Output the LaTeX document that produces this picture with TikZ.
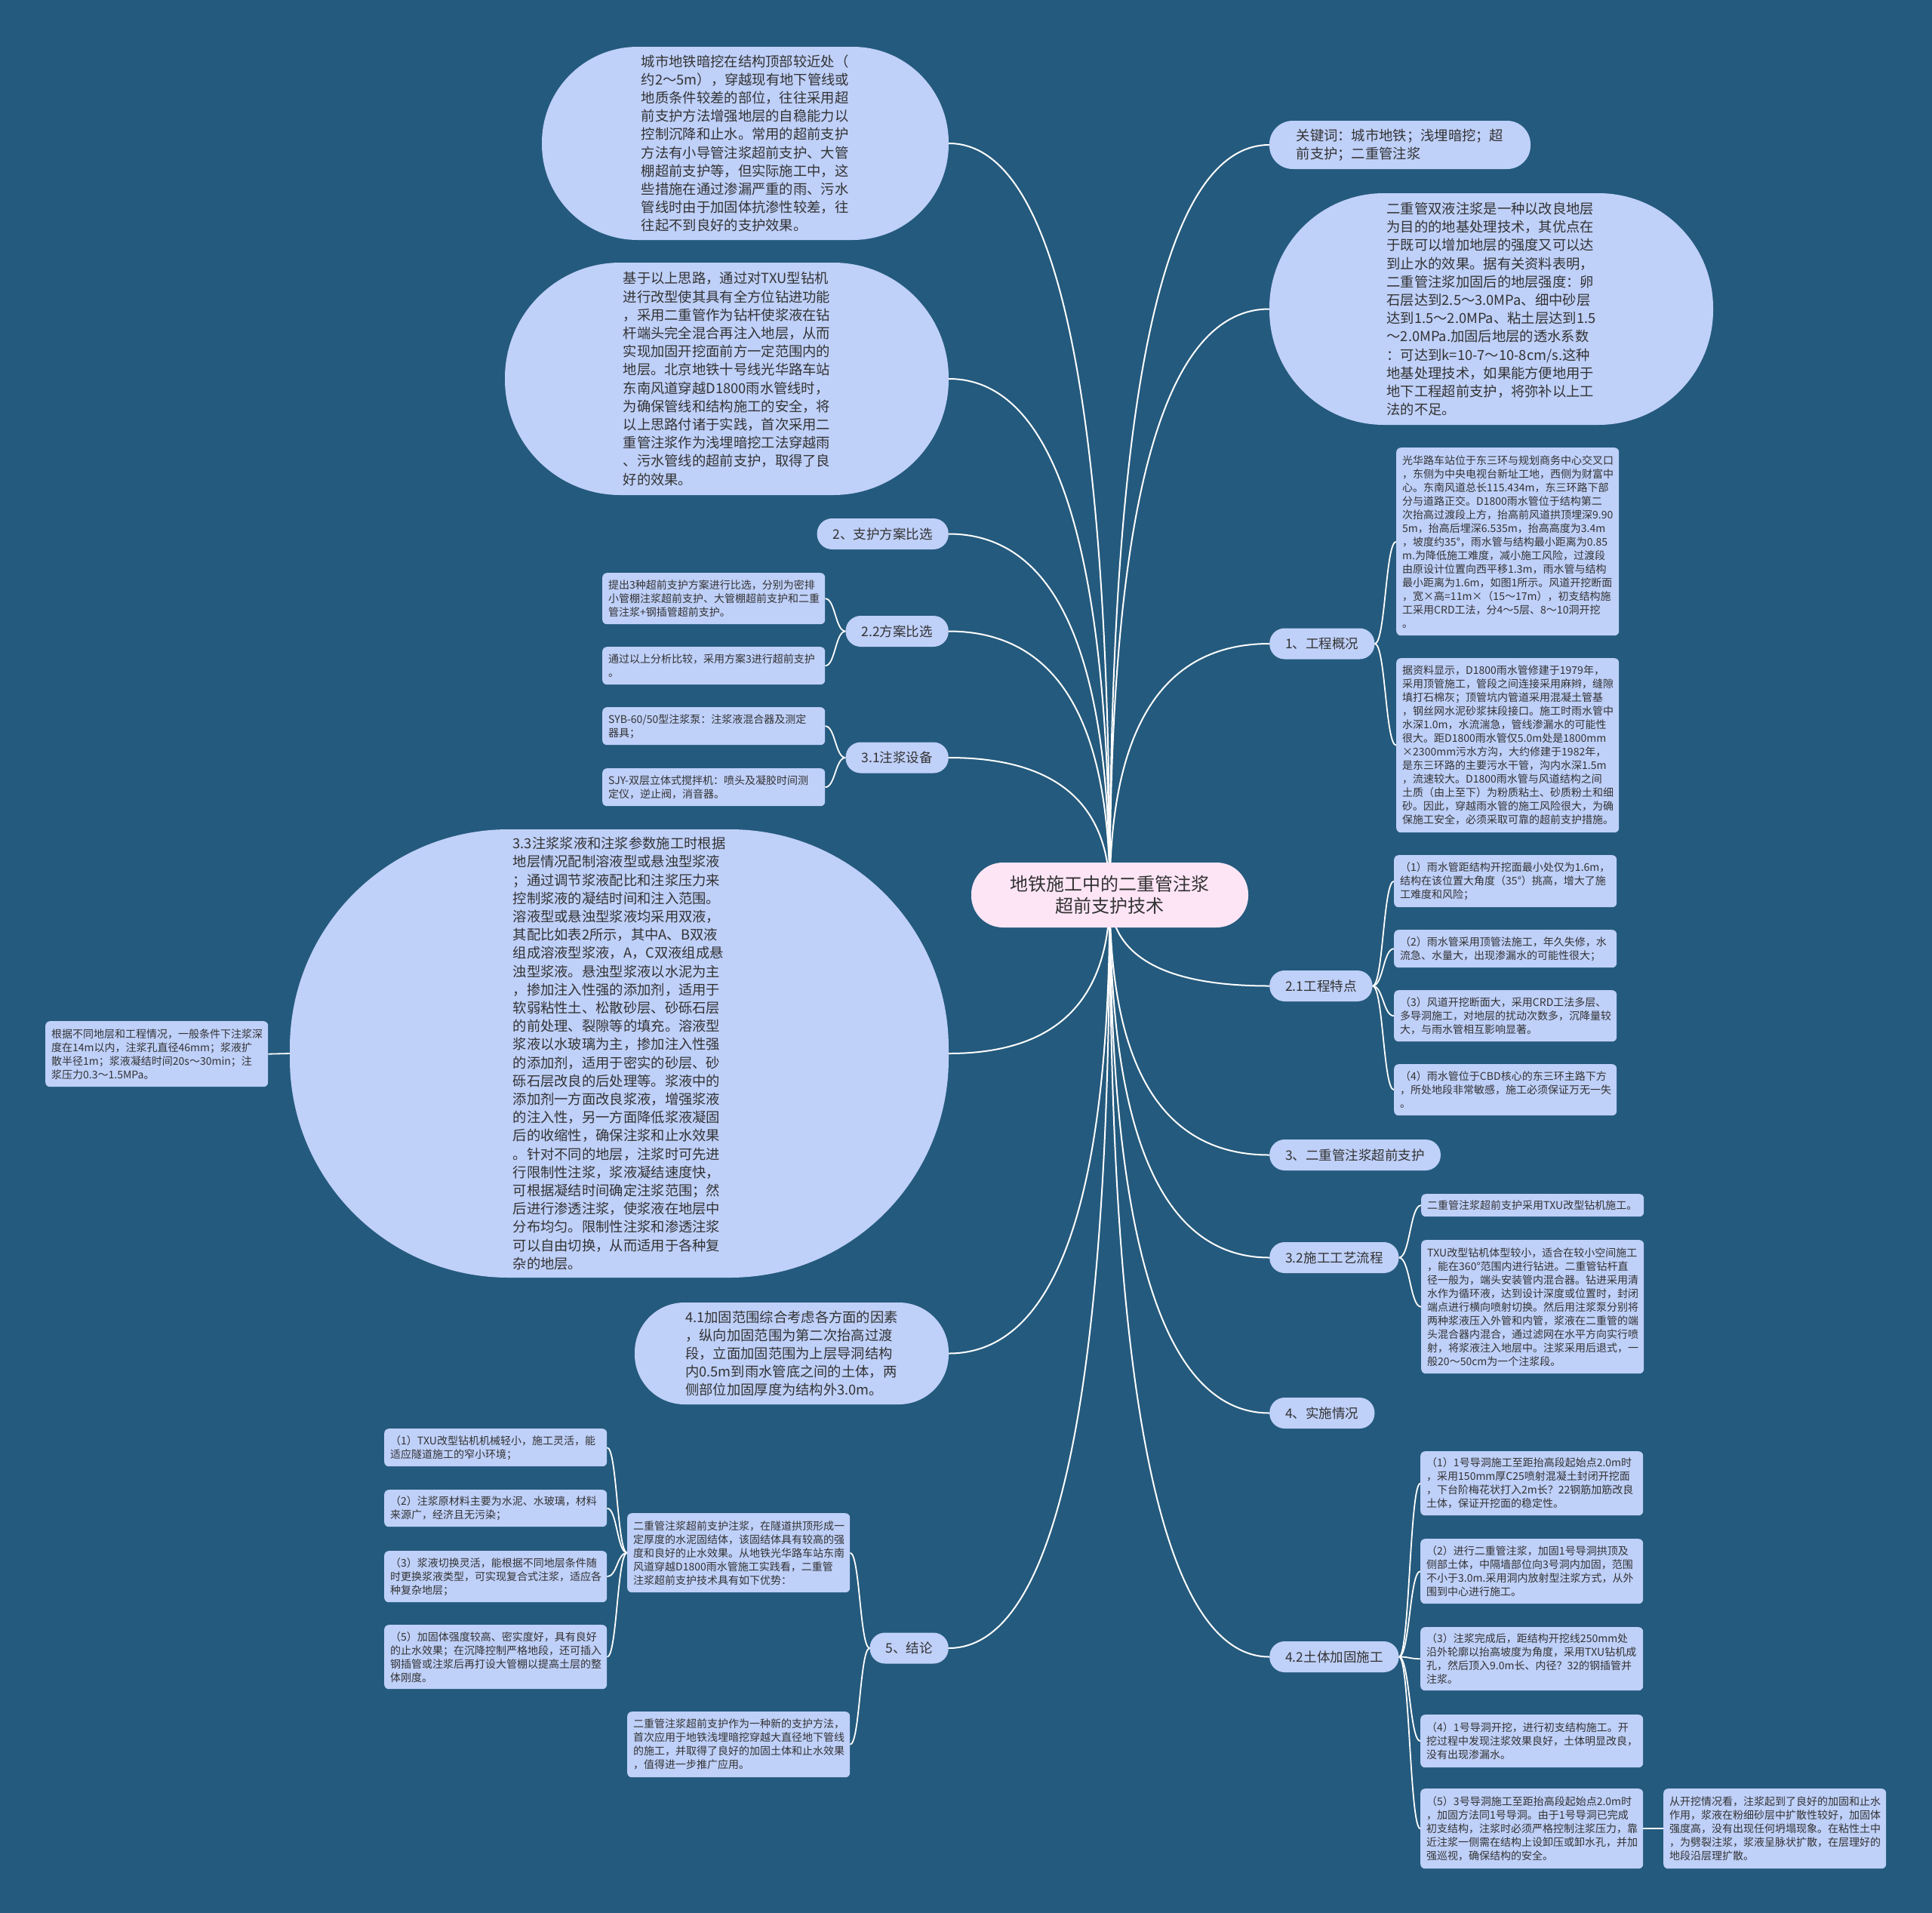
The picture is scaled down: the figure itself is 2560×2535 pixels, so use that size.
\documentclass[tikz,border=0pt]{standalone}
\usepackage{fontspec}
\setmainfont{Noto Sans CJK SC}
\usetikzlibrary{calc}
\definecolor{bgc}{RGB}{36,90,125}
\definecolor{nfill}{RGB}{191,208,249}
\definecolor{rootfill}{RGB}{253,229,246}
\definecolor{txt}{RGB}{51,51,51}
\pgfdeclarelayer{back}
\pgfdeclarelayer{edges}
\pgfsetlayers{back,edges,main}
\tikzset{
  rootcurve/.style={to path={let \p1=(\tikztostart), \p2=(\tikztotarget) in
     .. controls (\x1,{\y1+0.667*((\y2)-(\y1))}) and ({\x2+0.667*((\x1)-(\x2))},\y2) .. (\p2)}},
  scurve/.style={to path={let \p1=(\tikztostart), \p2=(\tikztotarget) in
     .. controls ({0.5*(\x1)+0.5*(\x2)},\y1) and ({0.5*(\x1)+0.5*(\x2)},\y2) .. (\p2)}},
  mainedge/.style={draw=white, line width=2pt, rootcurve},
  subedge/.style={draw=white, line width=1.8pt, scurve},
  leaf/.style={fill=nfill, text=txt, rounded corners=6pt, anchor=north west, text width=279pt,
     inner xsep=8pt, inner ysep=0pt, align=left, font=\fontsize{14}{18}\selectfont},
  bubble/.style={fill=nfill, text=txt, inner sep=0pt, align=left, font=\fontsize{18.3}{24.2}\selectfont},
  rlabel/.style={fill=nfill, text=txt, rounded corners=20pt, minimum height=41pt, inner xsep=21pt,
     inner ysep=0pt, font=\fontsize{17.5}{20}\selectfont, anchor=west},
  llabel/.style={rlabel, anchor=east},
  rootnode/.style={fill=rootfill, text=txt, rounded corners=42pt, minimum width=367pt, minimum height=86pt,
     align=center, inner sep=0pt, font=\fontsize{24}{29}\selectfont},
}
\begin{document}
\begin{tikzpicture}[x=1pt,y=-1pt]
\begin{pgfonlayer}{back}
\fill[bgc] (0,0) rectangle (2560,2535);
\end{pgfonlayer}
\useasboundingbox (0,0) rectangle (2560,2535);

% root
\node[rootnode] (root) at (1470.5,1186) {地铁施工中的二重管注浆\\超前支护技术};

% ---------- right side ----------
\node[bubble, minimum width=346pt, minimum height=64pt, rounded corners=31pt] (kw) at (1855,192)
 {关键词：城市地铁；浅埋暗挖；超\\前支护；二重管注浆};

\node[bubble, minimum width=588pt, minimum height=307pt, rounded corners=152pt] (ercg) at (1976,409.5)
 {二重管双液注浆是一种以改良地层\\为目的的地基处理技术，其优点在\\于既可以增加地层的强度又可以达\\到止水的效果。据有关资料表明，\\二重管注浆加固后的地层强度：卵\\石层达到2.5～3.0MPa、细中砂层\\达到1.5～2.0MPa、粘土层达到1.5\\～2.0MPa.加固后地层的透水系数\\：可达到k=10-7～10-8cm/s.这种\\地基处理技术，如果能方便地用于\\地下工程超前支护，将弥补以上工\\法的不足。};

\node[rlabel] (gk) at (1682,853) {1、工程概况};
\node[leaf, minimum height=249pt] (gkA) at (1850,593)
 {光华路车站位于东三环与规划商务中心交叉口\\，东侧为中央电视台新址工地，西侧为财富中\\心。东南风道总长115.434m，东三环路下部\\分与道路正交。D1800雨水管位于结构第二\\次抬高过渡段上方，抬高前风道拱顶埋深9.90\\5m，抬高后埋深6.535m，抬高高度为3.4m\\，坡度约35°，雨水管与结构最小距离为0.85\\m.为降低施工难度，减小施工风险，过渡段\\由原设计位置向西平移1.3m，雨水管与结构\\最小距离为1.6m，如图1所示。风道开挖断面\\，宽×高=11m×（15～17m），初支结构施\\工采用CRD工法，分4～5层、8～10洞开挖\\。};
\node[leaf, minimum height=231pt] (gkB) at (1850,872)
 {据资料显示，D1800雨水管修建于1979年，\\采用顶管施工，管段之间连接采用麻辫，缝隙\\填打石棉灰；顶管坑内管道采用混凝土管基\\，钢丝网水泥砂浆抹段接口。施工时雨水管中\\水深1.0m，水流湍急，管线渗漏水的可能性\\很大。距D1800雨水管仅5.0m处是1800mm\\×2300mm污水方沟，大约修建于1982年，\\是东三环路的主要污水干管，沟内水深1.5m\\，流速较大。D1800雨水管与风道结构之间\\土质（由上至下）为粉质粘土、砂质粉土和细\\砂。因此，穿越雨水管的施工风险很大，为确\\保施工安全，必须采取可靠的超前支护措施。};

\node[rlabel] (td) at (1682,1306.5) {2.1工程特点};
\node[leaf, minimum height=69pt] (td1) at (1847,1133)
 {（1）雨水管距结构开挖面最小处仅为1.6m，\\结构在该位置大角度（35°）挑高，增大了施\\工难度和风险；};
\node[leaf, minimum height=50pt] (td2) at (1847,1232)
 {（2）雨水管采用顶管法施工，年久失修，水\\流急、水量大，出现渗漏水的可能性很大；};
\node[leaf, minimum height=68pt] (td3) at (1847,1312)
 {（3）风道开挖断面大，采用CRD工法多层、\\多导洞施工，对地层的扰动次数多，沉降量较\\大，与雨水管相互影响显著。};
\node[leaf, minimum height=68pt] (td4) at (1847,1410)
 {（4）雨水管位于CBD核心的东三环主路下方\\，所处地段非常敏感，施工必须保证万无一失\\。};

\node[rlabel] (b3) at (1682,1530.5) {3、二重管注浆超前支护};

\node[rlabel] (b32) at (1682,1666.5) {3.2施工工艺流程};
\node[leaf, minimum height=30pt] (b32a) at (1883,1582)
 {二重管注浆超前支护采用TXU改型钻机施工。};
\node[leaf, minimum height=177pt] (b32b) at (1883,1643)
 {TXU改型钻机体型较小，适合在较小空间施工\\，能在360°范围内进行钻进。二重管钻杆直\\径一般为，端头安装管内混合器。钻进采用清\\水作为循环液，达到设计深度或位置时，封闭\\端点进行横向喷射切换。然后用注浆泵分别将\\两种浆液压入外管和内管，浆液在二重管的端\\头混合器内混合，通过滤网在水平方向实行喷\\射，将浆液注入地层中。注浆采用后退式，一\\般20～50cm为一个注浆段。};

\node[rlabel] (b4) at (1682,1872.5) {4、实施情况};

\node[rlabel] (b42) at (1682,2195.5) {4.2土体加固施工};
\node[leaf, minimum height=85pt] (f1) at (1882,1923)
 {（1）1号导洞施工至距抬高段起始点2.0m时\\，采用150mm厚C25喷射混凝土封闭开挖面\\，下台阶梅花状打入2m长？22钢筋加筋改良\\土体，保证开挖面的稳定性。};
\node[leaf, minimum height=86pt] (f2) at (1882,2039)
 {（2）进行二重管注浆，加固1号导洞拱顶及\\侧部土体，中隔墙部位向3号洞内加固，范围\\不小于3.0m.采用洞内放射型注浆方式，从外\\围到中心进行施工。};
\node[leaf, minimum height=84pt] (f3) at (1882,2156)
 {（3）注浆完成后，距结构开挖线250mm处\\沿外轮廓以抬高坡度为角度，采用TXU钻机成\\孔，然后顶入9.0m长、内径？32的钢插管并\\注浆。};
\node[leaf, minimum height=70pt] (f4) at (1882,2272)
 {（4）1号导洞开挖，进行初支结构施工。开\\挖过程中发现注浆效果良好，土体明显改良，\\没有出现渗漏水。};
\node[leaf, minimum height=106pt] (f5) at (1882,2370)
 {（5）3号导洞施工至距抬高段起始点2.0m时\\，加固方法同1号导洞。由于1号导洞已完成\\初支结构，注浆时必须严格控制注浆压力，靠\\近注浆一侧需在结构上设卸压或卸水孔，并加\\强巡视，确保结构的安全。};
\node[leaf, minimum height=106pt] (f6) at (2204,2370)
 {从开挖情况看，注浆起到了良好的加固和止水\\作用，浆液在粉细砂层中扩散性较好，加固体\\强度高，没有出现任何坍塌现象。在粘性土中\\，为劈裂注浆，浆液呈脉状扩散，在层理好的\\地段沿层理扩散。};

% ---------- left side ----------
\node[bubble, minimum width=539pt, minimum height=256pt, rounded corners=127pt] (tl) at (987.5,190)
 {城市地铁暗挖在结构顶部较近处（\\约2～5m），穿越现有地下管线或\\地质条件较差的部位，往往采用超\\前支护方法增强地层的自稳能力以\\控制沉降和止水。常用的超前支护\\方法有小导管注浆超前支护、大管\\棚超前支护等，但实际施工中，这\\些措施在通过渗漏严重的雨、污水\\管线时由于加固体抗渗性较差，往\\往起不到良好的支护效果。};

\node[bubble, minimum width=588pt, minimum height=308pt, rounded corners=153pt] (b2) at (963,502)
 {基于以上思路，通过对TXU型钻机\\进行改型使其具有全方位钻进功能\\，采用二重管作为钻杆使浆液在钻\\杆端头完全混合再注入地层，从而\\实现加固开挖面前方一定范围内的\\地层。北京地铁十号线光华路车站\\东南风道穿越D1800雨水管线时，\\为确保管线和结构施工的安全，将\\以上思路付诸于实践，首次采用二\\重管注浆作为浅埋暗挖工法穿越雨\\、污水管线的超前支护，取得了良\\好的效果。};

\node[llabel] (b2s) at (1257,707.5) {2、支护方案比选};

\node[llabel] (b22) at (1257,836.5) {2.2方案比选};
\node[leaf, minimum height=68pt] (b22a) at (798,759)
 {提出3种超前支护方案进行比选，分别为密排\\小管棚注浆超前支护、大管棚超前支护和二重\\管注浆+钢插管超前支护。};
\node[leaf, minimum height=50pt] (b22b) at (798,857)
 {通过以上分析比较，采用方案3进行超前支护\\。};

\node[llabel] (b31) at (1257,1004) {3.1注浆设备};
\node[leaf, minimum height=50pt] (b31a) at (798,937)
 {SYB-60/50型注浆泵：注浆液混合器及测定\\器具；};
\node[leaf, minimum height=50pt] (b31b) at (798,1018)
 {SJY-双层立体式搅拌机：喷头及凝胶时间测\\定仪，逆止阀，消音器。};

\node[bubble, minimum width=873pt, minimum height=594pt, rounded corners=290pt] (b33) at (820.5,1396)
 {3.3注浆浆液和注浆参数施工时根据\\地层情况配制溶液型或悬浊型浆液\\；通过调节浆液配比和注浆压力来\\控制浆液的凝结时间和注入范围。\\溶液型或悬浊型浆液均采用双液，\\其配比如表2所示，其中A、B双液\\组成溶液型浆液，A，C双液组成悬\\浊型浆液。悬浊型浆液以水泥为主\\，掺加注入性强的添加剂，适用于\\软弱粘性土、松散砂层、砂砾石层\\的前处理、裂隙等的填充。溶液型\\浆液以水玻璃为主，掺加注入性强\\的添加剂，适用于密实的砂层、砂\\砾石层改良的后处理等。浆液中的\\添加剂一方面改良浆液，增强浆液\\的注入性，另一方面降低浆液凝固\\后的收缩性，确保注浆和止水效果\\。针对不同的地层，注浆时可先进\\行限制性注浆，浆液凝结速度快，\\可根据凝结时间确定注浆范围；然\\后进行渗透注浆，使浆液在地层中\\分布均匀。限制性注浆和渗透注浆\\可以自由切换，从而适用于各种复\\杂的地层。};
\node[leaf, minimum height=87pt] (b33c) at (60,1353)
 {根据不同地层和工程情况，一般条件下注浆深\\度在14m以内，注浆孔直径46mm；浆液扩\\散半径1m；浆液凝结时间20s～30min；注\\浆压力0.3～1.5MPa。};

\node[bubble, minimum width=416pt, minimum height=135pt, rounded corners=66pt] (b41) at (1049,1793.5)
 {4.1加固范围综合考虑各方面的因素\\，纵向加固范围为第二次抬高过渡\\段，立面加固范围为上层导洞结构\\内0.5m到雨水管底之间的土体，两\\侧部位加固厚度为结构外3.0m。};

\node[llabel] (b5) at (1257,2184) {5、结论};
\node[leaf, minimum height=105pt] (c5A) at (831,2005)
 {二重管注浆超前支护注浆，在隧道拱顶形成一\\定厚度的水泥固结体，该固结体具有较高的强\\度和良好的止水效果。从地铁光华路车站东南\\风道穿越D1800雨水管施工实践看，二重管\\注浆超前支护技术具有如下优势：};
\node[leaf, minimum height=87pt] (c5B) at (831,2268)
 {二重管注浆超前支护作为一种新的支护方法，\\首次应用于地铁浅埋暗挖穿越大直径地下管线\\的施工，并取得了良好的加固土体和止水效果\\，值得进一步推广应用。};
\node[leaf, minimum height=50pt] (c51) at (509,1893)
 {（1）TXU改型钻机机械轻小，施工灵活，能\\适应隧道施工的窄小环境；};
\node[leaf, minimum height=49pt] (c52) at (509,1974)
 {（2）注浆原材料主要为水泥、水玻璃，材料\\来源广，经济且无污染；};
\node[leaf, minimum height=68pt] (c53) at (509,2055)
 {（3）浆液切换灵活，能根据不同地层条件随\\时更换浆液类型，可实现复合式注浆，适应各\\种复杂地层；};
\node[leaf, minimum height=85pt] (c55) at (509,2153)
 {（5）加固体强度较高、密实度好，具有良好\\的止水效果；在沉降控制严格地段，还可插入\\钢插管或注浆后再打设大管棚以提高土层的整\\体刚度。};

% ---------- connectors ----------
\begin{pgfonlayer}{edges}
\foreach \t in {kw,ercg,gk,td,b3,b32,b4,b42}
  \draw[mainedge] (root.center) to (\t.west);
\foreach \t in {tl,b2,b2s,b22,b31,b33,b41,b5}
  \draw[mainedge] (root.center) to (\t.east);
\foreach \t in {gkA,gkB} \draw[subedge] (gk.east) to (\t.west);
\foreach \t in {td1,td2,td3,td4} \draw[subedge] (td.east) to (\t.west);
\foreach \t in {b32a,b32b} \draw[subedge] (b32.east) to (\t.west);
\foreach \t in {f1,f2,f3,f4,f5} \draw[subedge] (b42.east) to (\t.west);
\draw[white, line width=1.8pt] (f5.east) -- (f6.west);
\foreach \t in {b22a,b22b} \draw[subedge] (b22.west) to (\t.east);
\foreach \t in {b31a,b31b} \draw[subedge] (b31.west) to (\t.east);
\draw[white, line width=1.8pt] (b33.west) -- (b33c.east);
\foreach \t in {c5A,c5B} \draw[subedge] (b5.west) to (\t.east);
\foreach \t in {c51,c52,c53,c55} \draw[subedge] (c5A.west) to (\t.east);
\end{pgfonlayer}
\end{tikzpicture}
\end{document}
